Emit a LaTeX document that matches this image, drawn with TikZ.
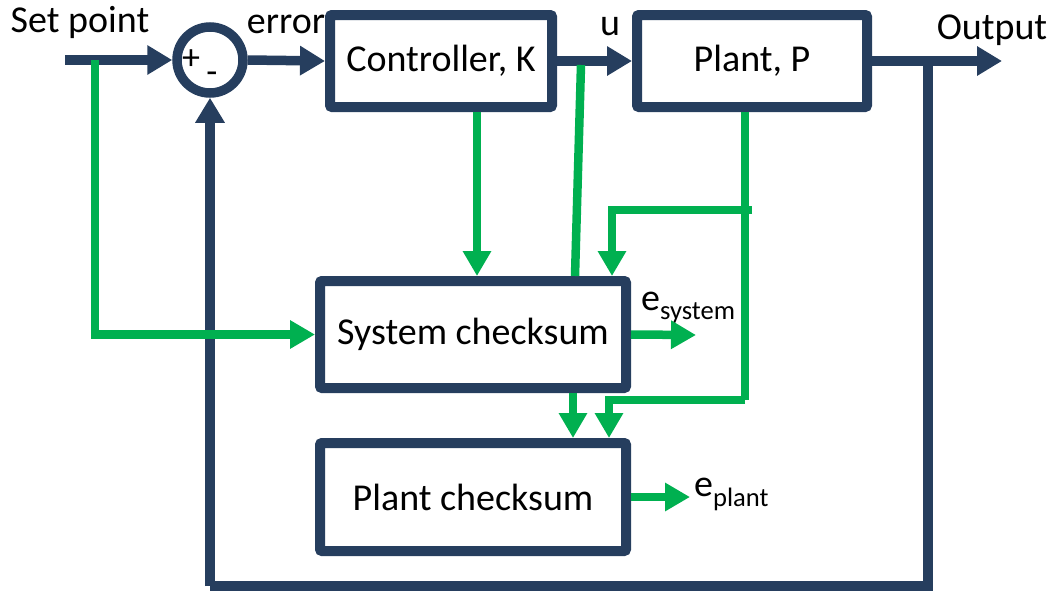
\documentclass[tikz,border=0pt]{standalone}
\usepackage{fontspec}
\setmainfont{Carlito}
\usetikzlibrary{arrows.meta}
\definecolor{navy}{RGB}{38,62,94}
\definecolor{sigreen}{RGB}{0,176,80}
\begin{document}
\begin{tikzpicture}[x=1pt,y=-1pt,
  every node/.style={font=\fontsize{38}{42}\selectfont},
  block/.style={draw=navy,line width=10pt,rounded corners=2pt,fill=white,
    inner sep=0pt,align=center},
  nline/.style={draw=navy,line width=9.5pt},
  narrow/.style={nline,-{Triangle[length=25pt,width=28pt]}},
  gline/.style={draw=sigreen,line width=8.5pt},
  garrow/.style={gline,-{Triangle[length=25pt,width=27pt]}},
  lbl/.style={inner sep=0pt}]
\useasboundingbox (0,0) rectangle (1055,590);

% blocks
\node[draw=navy,line width=9.5pt,circle,minimum size=66pt,inner sep=0pt] (sum) at (210,60) {};
\node[block,minimum width=222pt,minimum height=92pt] (ctrl) at (441,61) {Controller, K};
\node[block,minimum width=230pt,minimum height=92pt] (plant) at (752,61) {Plant, P};
\node[block,minimum width=306pt,minimum height=107pt] (syscs) at (473,334.5) {System checksum};
\node[block,minimum width=306pt,minimum height=108pt] (plantcs) at (473,497) {Plant checksum};

% labels
\node[lbl] (splbl) at (80,22) {Set point};
\node[lbl] (errlbl) at (286,24) {error};
\node[lbl] (ulbl) at (610,27) {u};
\node[lbl] (outlbl) at (992,30) {Output};
\node[lbl,font=\fontsize{36}{36}\selectfont] (plus) at (191,60) {+};
\node[lbl,font=\fontsize{36}{36}\selectfont] (minus) at (212,78) {-};
\node[lbl,anchor=west] (esys) at (641,308) {e\textsubscript{system}};
\node[lbl,anchor=west] (eplant) at (694,494) {e\textsubscript{plant}};

% branch points
\coordinate (sp) at (95,60);
\coordinate (ub) at (581,61);
\coordinate (yb) at (928,61);
\coordinate (setin) at (65,60);
\coordinate (outend) at (1002,61);
\coordinate (fbl) at (210,586);
\coordinate (fbr) at (928,586);
\coordinate (pb) at (745,210);
\coordinate (pbr) at (752,210);
\coordinate (pl) at (745,400);
\coordinate (esysend) at (696,335);
\coordinate (eplantend) at (690,497);

% main loop
\draw[narrow] (setin) -- (sum.west);
\draw[narrow] (sum.east) -- (ctrl.west);
\draw[narrow] (ctrl.east |- ub) -- (plant.west |- ub);
\draw[narrow] (plant.east |- yb) -- (outend);
\draw[nline] (yb) -- (fbr) -- (fbl);
\draw[narrow] (fbl) -- (sum.south);

% checksum signals
\draw[garrow] (sp) -- (sp |- syscs.west) -- (syscs.west);
\draw[garrow] ([xshift=4pt]syscs.north |- ctrl.south) -- ([xshift=4pt]syscs.north);
\draw[gline] ([yshift=-4pt]ub) -- ([xshift=102pt]syscs.north);
\draw[garrow] ([xshift=100pt]syscs.south) -- ([xshift=100pt]plantcs.north);
\draw[gline] (pb |- plant.south) -- (pl);
\draw[garrow] (pbr) -- ([xshift=139pt]syscs.north |- pbr) -- ([xshift=139pt]syscs.north);
\draw[garrow] (pl) -- ([xshift=136pt]plantcs.north |- pl) -- ([xshift=136pt]plantcs.north);
\draw[garrow] (syscs.east) -- (esysend);
\draw[garrow] (plantcs.east |- eplantend) -- (eplantend);
\end{tikzpicture}
\end{document}
